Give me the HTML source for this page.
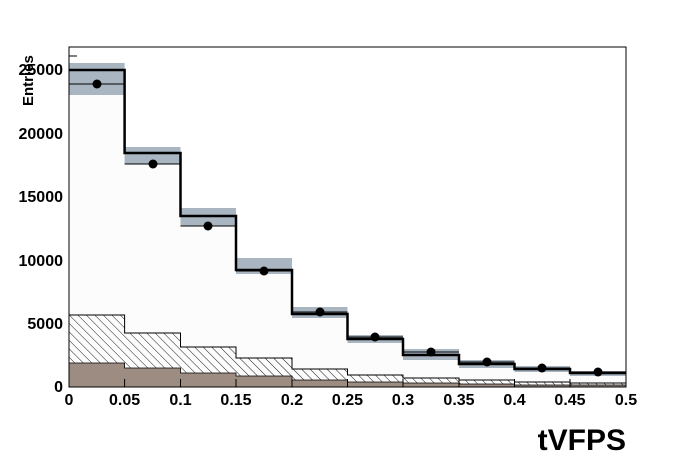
<!DOCTYPE html>
<html><head><style>body{margin:0;background:#fff}svg{display:block}</style></head><body>
<svg width="696" height="472" xmlns="http://www.w3.org/2000/svg" font-family="Liberation Sans, sans-serif" font-weight="bold">
<defs>
<pattern id="h" width="6" height="6" patternUnits="userSpaceOnUse" patternTransform="rotate(-45)">
<line x1="0" y1="0" x2="0" y2="6" stroke="#000" stroke-width="0.9"/>
</pattern>
</defs>
<rect x="0" y="0" width="696" height="472" fill="#fff"/>
<path d="M69,387 V70 H124.6 V153 H180.5 V216 H236 V270 H292 V314 H347.5 V339 H403 V355 H459 V364 H514.5 V369 H570 V373 H626 V387 Z" fill="#fcfcfc"/>
<path d="M69,387 V315 H124.6 V333 H180.5 V347 H236 V358 H292 V369 H347.5 V375 H403 V378 H459 V380 H514.5 V382 H570 V383 H626 V387 Z" fill="url(#h)" stroke="#000" stroke-width="1"/>
<path d="M69,387 V363 H124.6 V368 H180.5 V373 H236 V376 H292 V380 H347.5 V382 H403 V383 H459 V384 H514.5 V385 H626 V387 Z" fill="#9c8c82" stroke="#000" stroke-width="0.8"/>
<g fill="#a9b6c2">
<rect x="69" y="63" width="55.6" height="32"/>
<rect x="124.6" y="147" width="55.9" height="17"/>
<rect x="180.5" y="208" width="55.5" height="18"/>
<rect x="236" y="258" width="56" height="16"/>
<rect x="292" y="307" width="55.5" height="11"/>
<rect x="347.5" y="335" width="55.5" height="8"/>
<rect x="403" y="349" width="56" height="11"/>
<rect x="459" y="360" width="55.5" height="8"/>
<rect x="514.5" y="366" width="55.5" height="6"/>
<rect x="570" y="371" width="56" height="5"/>
</g>
<path d="M69,70 H124.6 V153 H180.5 V216 H236 V270 H292 V314 H347.5 V339 H403 V355 H459 V364 H514.5 V369 H570 V373 H626" fill="none" stroke="#000" stroke-width="2.5"/>
<g stroke="#000" stroke-width="1">
<line x1="69" y1="84" x2="124.6" y2="84"/><line x1="124.6" y1="164" x2="180.5" y2="164"/>
<line x1="180.5" y1="226" x2="236" y2="226"/><line x1="236" y1="271" x2="292" y2="271"/>
<line x1="292" y1="312" x2="347.5" y2="312"/><line x1="347.5" y1="337" x2="403" y2="337"/>
<line x1="403" y1="352" x2="459" y2="352"/><line x1="459" y1="362" x2="514.5" y2="362"/>
<line x1="514.5" y1="368" x2="570" y2="368"/><line x1="570" y1="372" x2="626" y2="372"/>
</g>
<g fill="#000">
<circle cx="97" cy="84" r="4.5"/><circle cx="153" cy="164" r="4.5"/><circle cx="208" cy="226" r="4.5"/>
<circle cx="264" cy="271" r="4.5"/><circle cx="320" cy="312" r="4.5"/><circle cx="375" cy="337" r="4.5"/>
<circle cx="431" cy="352" r="4.5"/><circle cx="487" cy="362" r="4.5"/><circle cx="542" cy="368" r="4.5"/>
<circle cx="598" cy="372" r="4.5"/>
</g>
<rect x="69" y="47" width="557" height="340" fill="none" stroke="#000" stroke-width="1"/>
<g stroke="#000" stroke-width="1">
<line x1="69" y1="56" x2="77" y2="56"/>
<line x1="124.6" y1="387" x2="124.6" y2="379"/><line x1="180.5" y1="387" x2="180.5" y2="379"/>
<line x1="236" y1="387" x2="236" y2="379"/><line x1="292" y1="387" x2="292" y2="379"/>
<line x1="347.5" y1="387" x2="347.5" y2="379"/><line x1="403" y1="387" x2="403" y2="379"/>
<line x1="459" y1="387" x2="459" y2="379"/><line x1="514.5" y1="387" x2="514.5" y2="379"/>
<line x1="570" y1="387" x2="570" y2="379"/>
</g>
<g font-size="16" text-anchor="end">
<text x="63" y="75">25000</text><text x="63" y="139">20000</text><text x="63" y="202">15000</text>
<text x="63" y="266">10000</text><text x="63" y="329">5000</text><text x="63" y="392">0</text>
</g>
<g font-size="16" text-anchor="middle">
<text x="69" y="405">0</text><text x="124.6" y="405">0.05</text><text x="180.5" y="405">0.1</text>
<text x="236" y="405">0.15</text><text x="292" y="405">0.2</text><text x="347.5" y="405">0.25</text>
<text x="403" y="405">0.3</text><text x="459" y="405">0.35</text><text x="514.5" y="405">0.4</text>
<text x="570" y="405">0.45</text><text x="626" y="405">0.5</text>
</g>
<text transform="translate(33,106) rotate(-90)" font-size="15">Entries</text>
<text x="626" y="450" font-size="30" text-anchor="end">tVFPS</text>
</svg>
</body></html>
